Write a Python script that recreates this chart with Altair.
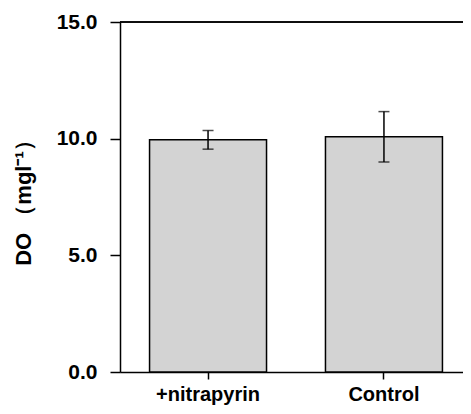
import altair as alt
import pandas as pd

categories = ["+nitrapyrin", "Control"]
means = [9.95, 10.08]
errors = [0.40, 1.08]
y_ticks = [0.0, 5.0, 10.0, 15.0]

df = pd.DataFrame({
    "cat": categories,
    "mean": means,
    "lo": [m - e for m, e in zip(means, errors)],
    "hi": [m + e for m, e in zip(means, errors)],
})

FONT = "Liberation Sans"

x_scale = alt.Scale(paddingInner=0.335, paddingOuter=0.168, range=[0, 352])
y_scale = alt.Scale(domain=[0, 15], nice=False, zero=True)

x_enc = alt.X(
    "cat:N",
    sort=categories,
    scale=x_scale,
    axis=alt.Axis(
        title=None, labelAngle=0, tickSize=7, labelPadding=5,
        labelFontSize=20, labelFontWeight="bold", labelFont=FONT,
        labelColor="black", domainColor="black", tickColor="black",
        domainWidth=1.5, tickWidth=1.5,
    ),
)

bars = alt.Chart(df).mark_bar(
    color="#d3d3d3", stroke="black", strokeWidth=1.5
).encode(
    x=x_enc,
    y=alt.Y(
        "mean:Q", scale=y_scale,
        axis=alt.Axis(
            title="DO （mgl⁻¹）", values=y_ticks, format=".1f", grid=False,
            tickSize=10, labelPadding=13, labelFontSize=21, labelFontWeight="bold",
            labelFont=FONT, labelColor="black", domainColor="black", tickColor="black",
            domainWidth=1.5, tickWidth=1.5, titleFont=FONT, titleFontSize=22,
            titleFontWeight="bold", titleColor="black", titlePadding=21,
        ),
    ),
)

top_line = alt.Chart(df).mark_rule(color="black", strokeWidth=1.5).encode(
    y=alt.datum(15.0, scale=y_scale), x=alt.value(0), x2=alt.value("width")
)

rules = alt.Chart(df).mark_rule(color="black", strokeWidth=1.5).encode(
    x=alt.X("cat:N", sort=categories), y=alt.Y("lo:Q", scale=y_scale), y2="hi:Q"
)
cap_hi = alt.Chart(df).mark_tick(color="black", size=11, thickness=1.5, orient="horizontal").encode(
    x=alt.X("cat:N", sort=categories), y=alt.Y("hi:Q", scale=y_scale)
)
cap_lo = alt.Chart(df).mark_tick(color="black", size=11, thickness=1.5, orient="horizontal").encode(
    x=alt.X("cat:N", sort=categories), y=alt.Y("lo:Q", scale=y_scale)
)

chart = alt.layer(bars, top_line, rules, cap_hi, cap_lo).properties(
    width=343, height=350,
    autosize=alt.AutoSizeParams(type="none"),
    padding={"left": 112, "top": 14, "right": 0, "bottom": 34},
).configure_view(
    stroke=None
).configure(background="white")

chart.save("out.html", embed_options={"renderer": "svg", "actions": False})
